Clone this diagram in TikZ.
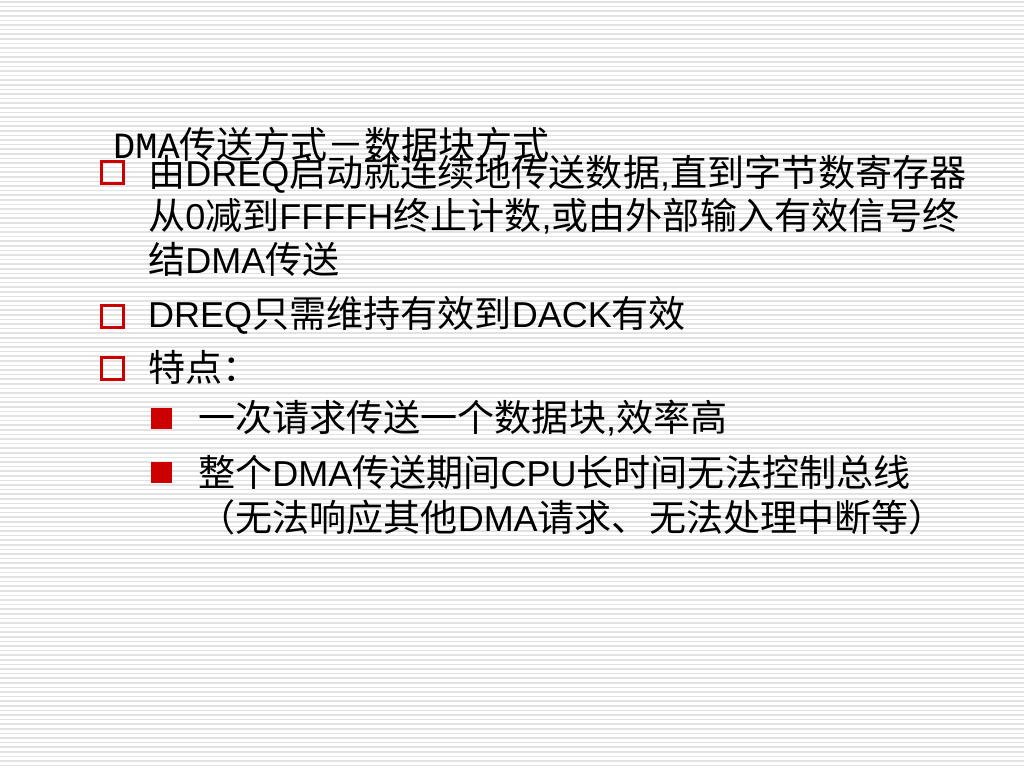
\documentclass[tikz,border=0pt]{standalone}
\usepackage{fontspec}
\setmainfont{Liberation Sans}
\newfontfamily\cjk[Scale=1.03]{Noto Sans CJK SC}
\newfontfamily\cjktitle{Noto Sans CJK SC}
\newfontfamily\monof{Liberation Mono}
\newcommand\zh[1]{{\cjk #1}}
\definecolor{bulletred}{HTML}{CC0000}
\definecolor{stripe}{HTML}{E2E2E2}
\tikzset{
  body/.style={anchor=base west, inner sep=0pt, font=\fontsize{36}{43}\selectfont, text=black},
  titletext/.style={anchor=base west, inner sep=0pt, font=\fontsize{37}{44}\selectfont, text=black},
  hollowbullet/.style={draw=bulletred, line width=3pt, minimum size=22pt, inner sep=0pt},
  filledbullet/.style={fill=bulletred, minimum size=21pt, inner sep=0pt},
}
\begin{document}
\begin{tikzpicture}[x=1pt,y=-1pt]
\useasboundingbox (0,0) rectangle (1024,768);
\fill[white] (0,0) rectangle (1024,768);
\foreach \i in {0,...,166} {
  \draw[stripe, line width=1.5pt] (0,{2+\i*4.6}) -- (1024,{2+\i*4.6});
}
% title
\node[titletext] (title) at (113,158) {{\monof DMA}{\cjktitle 传送方式－数据块方式}};
% bullets
\node[hollowbullet] (b1) at (112,172) {};
\node[hollowbullet] (b2) at (112,316) {};
\node[hollowbullet] (b3) at (112,368) {};
\node[filledbullet] (s1) at (161,418) {};
\node[filledbullet] (s2) at (161,472) {};
% text
\node[body] (t1a) at (148,186) {\zh{由}DREQ\zh{启动就连续地传送数据},\zh{直到字节数寄存器}};
\node[body] (t1b) at (148,229) {\zh{从}0\zh{减到}FFFFH\zh{终止计数},\zh{或由外部输入有效信号终}};
\node[body] (t1c) at (148,273) {\zh{结}DMA\zh{传送}};
\node[body] (t2) at (148,327) {DREQ\zh{只需维持有效到}DACK\zh{有效}};
\node[body] (t3) at (148,381) {\zh{特点：}};
\node[body] (u1) at (198,431) {\zh{一次请求传送一个数据块},\zh{效率高}};
\node[body] (u2a) at (198,486) {\zh{整个}DMA\zh{传送期间}CPU\zh{长时间无法控制总线}};
\node[body] (u2b) at (198,531) {\zh{（无法响应其他}DMA\zh{请求、无法处理中断等）}};
\end{tikzpicture}
\end{document}
